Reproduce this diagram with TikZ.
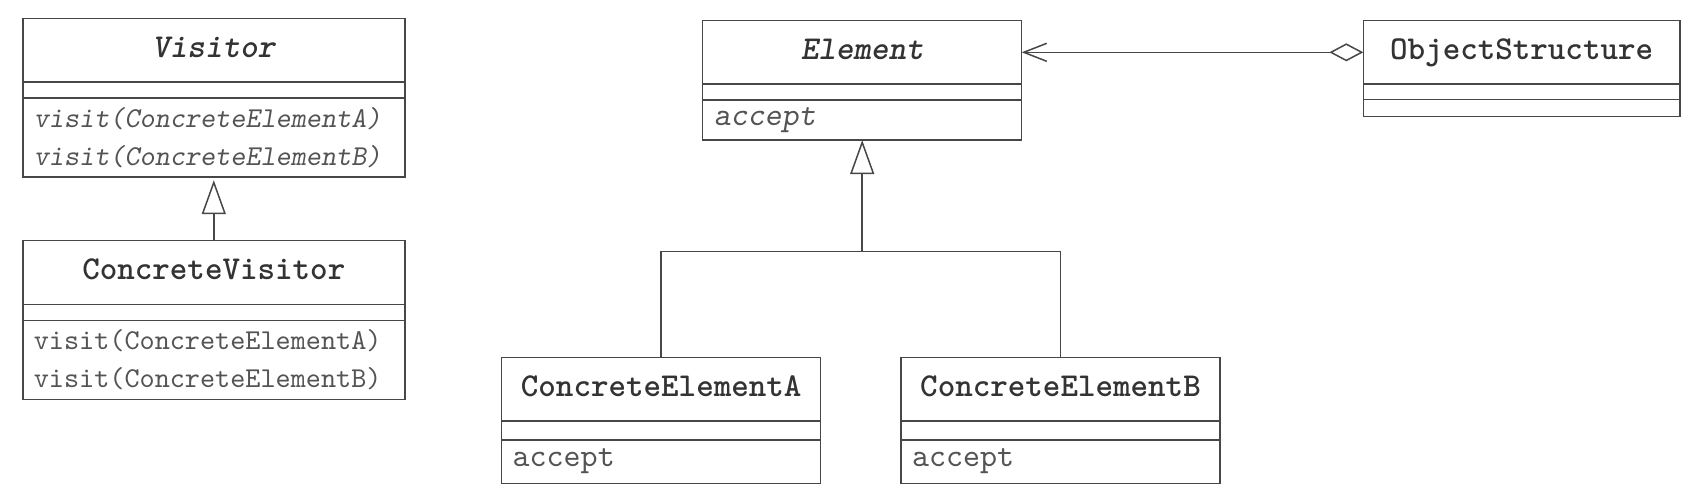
\documentclass[tikz,border=0pt]{standalone}
\usepackage{fontspec}
\newfontfamily\umlfont{lmmono10-regular.otf}[
  BoldFont=lmmonolt10-bold.otf, ItalicFont=lmmonoslant10-regular.otf,
  BoldItalicFont=lmmonolt10-boldoblique.otf]
\usetikzlibrary{positioning,arrows.meta}
\definecolor{umlline}{gray}{0.28}
\definecolor{umltitle}{gray}{0.2}
\definecolor{umlops}{gray}{0.33}
\newcommand*{\opsfont}{\fontsize{14.4}{15}\selectfont}
\newcommand*{\umlclass}[7][159.5pt]{%
  \node [classname, minimum width=#1, anchor=north west] (#2) at (#3) {#4};
  \node [classattr, minimum width=#1, minimum height=#6, below=0pt of #2] (#2-a) {};
  \pgfmathsetlengthmacro\opswidth{#1-11pt}%
  \node [classops, text width=\opswidth, minimum height=#7, below=0pt of #2-a] (#2-m) {#5};
}

\begin{document}
\begin{tikzpicture}[
    classbox/.style  = {draw=umlline, line width=0.75pt, outer sep=0pt, inner sep=0pt},
    classname/.style = {classbox, minimum height=31.8pt, text=umltitle,
                        font=\umlfont\bfseries\fontsize{16.7}{19}\selectfont,
                        text height=10pt, text depth=3pt},
    classattr/.style = {classbox},
    classops/.style  = {classbox, inner xsep=5.5pt, align=left, text=umlops,
                        font=\umlfont\fontsize{16.2}{19}\selectfont},
    inherit/.style   = {draw=umlline, line width=0.75pt, -{Triangle[open, length=17pt, width=12pt]}},
    assoc/.style     = {draw=umlline, line width=0.75pt},
    aggr/.style      = {draw=umlline, line width=0.75pt,
                        {Diamond[open, length=17pt, width=9pt]}-{Straight Barb[length=11.5pt, width=9pt]}}]
  \useasboundingbox (0,0) rectangle (852pt,-250pt);

  \umlclass[191pt]{visitor}{11.4pt,-9.15pt}{\itshape Visitor}
    {\opsfont\itshape visit(ConcreteElementA)\\visit(ConcreteElementB)}{8pt}{39.5pt}
  \umlclass[191pt]{cvisitor}{11.4pt,-120.35pt}{ConcreteVisitor}
    {\opsfont visit(ConcreteElementA)\\visit(ConcreteElementB)}{8pt}{39.5pt}
  \umlclass{element}{351.35pt,-10.25pt}{\itshape Element}{\itshape accept}{8pt}{20pt}
  \umlclass[158.35pt]{objstruct}{681.65pt,-10.25pt}{ObjectStructure}{}{7.75pt}{8.35pt}
  \umlclass{cea}{250.85pt,-178.8pt}{ConcreteElementA}{accept}{9.3pt}{21.8pt}
  \umlclass{ceb}{450.5pt,-178.8pt}{ConcreteElementB}{accept}{9.3pt}{21.8pt}

  % connectors
  \draw[inherit, shorten >=1.65pt] (cvisitor.north) -- (visitor-m.south);
  \coordinate[below=55.7pt of element-m] (branch);
  \draw[assoc] (cea.north) |- (branch) -| (ceb.north);
  \draw[inherit] (branch) -- (element-m.south);
  \draw[aggr] (objstruct.west) -- (element.east);
\end{tikzpicture}
\end{document}
